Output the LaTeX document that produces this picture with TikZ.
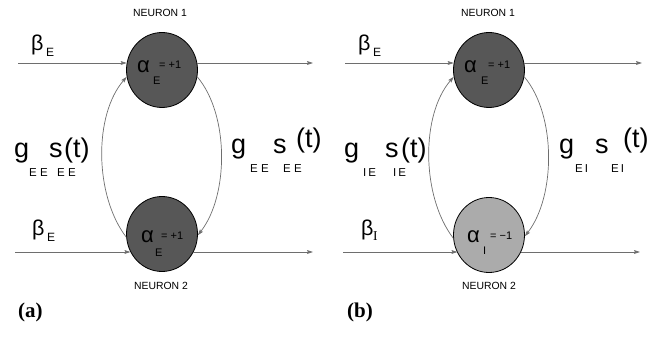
\documentclass[tikz,border=0pt]{standalone}
\usepackage{fontspec}
\setmainfont{Liberation Sans}
\newfontfamily\serifface{Liberation Serif}
\usetikzlibrary{shapes.geometric,arrows.meta}
\definecolor{darkfill}{HTML}{575757}
\definecolor{lightfill}{HTML}{ABABAB}
\definecolor{linegray}{HTML}{6E6E6E}
\newcommand\fsz[1]{\fontsize{#1}{#1}\selectfont}
\tikzset{
  neuron/.style={ellipse, draw=black, line width=0.8pt, minimum width=71pt, minimum height=75pt, inner sep=0pt},
  exc/.style={neuron, fill=darkfill},
  inh/.style={neuron, fill=lightfill},
  conn/.style={draw=linegray, line width=0.7pt, -{Stealth[length=6pt,width=3.8pt,inset=1pt]}},
  txt/.style={inner sep=0pt, anchor=base west},
  title/.style={inner sep=0pt, anchor=base, font=\fsz{10.4}},
  big/.style={txt, font=\fsz{27}},
  greek/.style={txt, font=\fsz{21.5}},
  small/.style={txt, font=\fsz{11}},
  sub/.style={txt, font=\fsz{11.5}},
  panel/.style={txt, font=\serifface\bfseries\fsz{21}},
}
\begin{document}
\begin{tikzpicture}[x=1pt,y=-1pt]
\useasboundingbox (0,0) rectangle (654,352);

% ================= panel (a) =================
\node[exc] (n1a) at (162,70) {};
\node[exc] (n2a) at (162,234) {};
\node[title] (t1a) at (160,17) {NEURON 1};
\node[title] (t2a) at (161,290) {NEURON 2};

\coordinate (i1a) at (18,63);
\coordinate (o1a) at (313,63);
\coordinate (i2a) at (15,252);
\coordinate (o2a) at (313,252);
\draw[conn] (i1a) -- (i1a -| n1a.169);
\draw[conn] (i1a -| n1a.11) -- (o1a);
\draw[conn] (i2a) -- (i2a -| n2a.210);
\draw[conn] (i2a -| n2a.330) -- (o2a);

\draw[conn] (n2a.185) .. controls +(-32,-42) and +(-33,38) .. (n1a.191);
\draw[conn] (n1a.349) .. controls +(32,38) and +(31,-40) .. (n2a.358);

\node[greek] (b1a) at (31,50.5) {β};
\node[txt, font=\fsz{12}] (b1as) at (46,57) {E};
\node[greek] (b2a) at (32,235.6) {β};
\node[txt, font=\fsz{12}] (b2as) at (47,242) {E};

\node[txt, font=\fsz{22}] (a1a) at (137,73) {α};
\node[small] (a1ae) at (159,68.5) {= +1};
\node[small] (a1as) at (153,85) {E};
\node[txt, font=\fsz{22}] (a2a) at (141,243) {α};
\node[small] (a2ae) at (161,240) {= +1};
\node[small] (a2as) at (155,257) {E};

\node[big] (gla) at (14,158) {g};
\node[big] (sla) at (49,158) {s};
\node[big] (tla) at (64,158) {(t)};
\node[sub] (gsla) at (29,177) {E E};
\node[sub] (ssla) at (57,177) {E E};

\node[big] (gra) at (231,154) {g};
\node[big] (sra) at (273,154) {s};
\node[big] (tra) at (296,147.5) {(t)};
\node[sub] (gsra) at (250,173) {E E};
\node[sub] (ssra) at (283,173) {E E};

\node[panel] (pa) at (18,318) {(a)};

% ================= panel (b) =================
\node[exc] (n1b) at (489,70) {};
\node[inh] (n2b) at (489,235) {};
\node[title] (t1b) at (488,17) {NEURON 1};
\node[title] (t2b) at (489,290) {NEURON 2};

\coordinate (i1b) at (345,63);
\coordinate (o1b) at (642,63);
\coordinate (i2b) at (343,252);
\coordinate (o2b) at (640,252);
\draw[conn] (i1b) -- (i1b -| n1b.169);
\draw[conn] (i1b -| n1b.11) -- (o1b);
\draw[conn] (i2b) -- (i2b -| n2b.210);
\draw[conn] (i2b -| n2b.330) -- (o2b);

\draw[conn] (n2b.185) .. controls +(-32,-42) and +(-33,38) .. (n1b.191);
\draw[conn] (n1b.349) .. controls +(32,38) and +(31,-40) .. (n2b.358);

\node[greek] (b1b) at (358,50.5) {β};
\node[txt, font=\fsz{12}] (b1bs) at (373,57) {E};
\node[greek] (b2b) at (361,235.6) {β};
\node[txt, font=\serifface\fsz{13.5}] (b2bs) at (373,241) {I};

\node[txt, font=\fsz{22}] (a1b) at (464,73) {α};
\node[small] (a1be) at (488,68.5) {= +1};
\node[small] (a1bs) at (481,85) {E};
\node[txt, font=\fsz{22}] (a2b) at (467,243) {α};
\node[small] (a2be) at (490,240) {= −1};
\node[small] (a2bs) at (483,255) {I};

\node[big] (glb) at (344,158) {g};
\node[big] (slb) at (385,158) {s};
\node[big] (tlb) at (401,158) {(t)};
\node[sub] (gslb) at (363,177) {I\,E};
\node[sub] (sslb) at (393,177) {I\,E};

\node[big] (grb) at (559,154) {g};
\node[big] (srb) at (595,154) {s};
\node[big] (trb) at (623,147.5) {(t)};
\node[sub] (gsrb) at (575,173) {E\,I};
\node[sub] (ssrb) at (611,173) {E\,I};

\node[panel] (pb) at (347,318) {(b)};
\end{tikzpicture}
\end{document}
